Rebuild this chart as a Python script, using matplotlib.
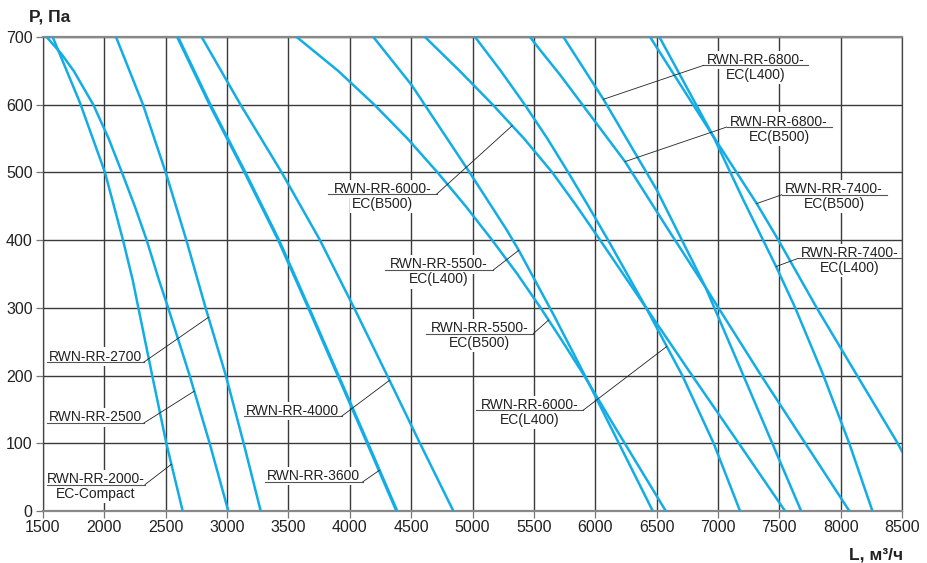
import numpy as np
import matplotlib
matplotlib.use('Agg')
import matplotlib.pyplot as plt
from matplotlib.transforms import offset_copy

plt.rcParams['font.family'] = ['Liberation Sans', 'DejaVu Sans']

# Fan curves: pressure P (Pa) and airflow L (m3/h)
P_2000 = [700, 603, 500, 400, 341, 200, 100, 0]
L_2000 = [1579, 1801, 2005, 2152, 2231, 2390, 2505, 2638]

P_2500 = [700, 675, 650, 600, 550, 500, 450, 400, 341, 300, 200, 100, 0]
L_2500 = [1530, 1650, 1750, 1910, 2035, 2143, 2248, 2345, 2445, 2520, 2695, 2858, 3010]

P_2700 = [700, 600, 500, 400, 300, 200, 100, 0]
L_2700 = [2095, 2315, 2500, 2668, 2825, 2990, 3135, 3274]

P_3600 = [700, 600, 500, 400, 300, 200, 100, 0]
L_3600 = [2597, 2861, 3146, 3420, 3665, 3905, 4145, 4383]

P_4000 = [700, 600, 500, 400, 300, 200, 100, 0]
L_4000 = [2793, 3110, 3445, 3757, 4035, 4305, 4572, 4844]

P_5500B = [700, 650, 600, 550, 500, 450, 400, 350, 300, 250, 200, 130, 0]
L_5500B = [3567, 3905, 4200, 4470, 4715, 4945, 5160, 5365, 5555, 5735, 5910, 6140, 6575]

P_5500L = [700, 629, 499, 415, 386, 290, 195, 130, 0]
L_5500L = [4192, 4504, 4980, 5279, 5374, 5660, 5930, 6110, 6469]

P_6000B = [700, 650, 600, 550, 500, 450, 400, 300, 200, 100, 0]
L_6000B = [4613, 4895, 5165, 5420, 5650, 5850, 6040, 6415, 6790, 7170, 7547]

P_6000L = [700, 650, 600, 550, 500, 450, 400, 300, 200, 100, 0]
L_6000L = [5021, 5230, 5426, 5610, 5780, 5945, 6105, 6415, 6710, 6965, 7180]

P_6800B = [700, 681, 644, 516, 415, 330, 201, 0]
L_6800B = [5469, 5550, 5714, 6243, 6597, 6900, 7349, 8071]

P_6800L = [700, 608, 474, 415, 330, 201, 0]
L_6800L = [5741, 6067, 6502, 6665, 6900, 7205, 7678]

P_7400B = [700, 553, 454, 400, 300, 201, 100, 88]
L_7400B = [6447, 6963, 7316, 7493, 7805, 8131, 8465, 8500]

P_7400L = [700, 553, 459, 361, 300, 200, 100, 0]
L_7400L = [6523, 6963, 7208, 7474, 7630, 7860, 8070, 8259]

curves = {
    '2000': (L_2000, P_2000), '2500': (L_2500, P_2500), '2700': (L_2700, P_2700),
    '3600': (L_3600, P_3600), '4000': (L_4000, P_4000),
    '5500B': (L_5500B, P_5500B), '5500L': (L_5500L, P_5500L),
    '6000B': (L_6000B, P_6000B), '6000L': (L_6000L, P_6000L),
    '6800B': (L_6800B, P_6800B), '6800L': (L_6800L, P_6800L),
    '7400B': (L_7400B, P_7400B), '7400L': (L_7400L, P_7400L),
}

x_ticks = np.arange(1500, 8501, 500)
y_ticks = np.arange(0, 701, 100)

# label layout: text lines, underline x0..x1 at y, curve + pressure the leader points to, leader side
labels = [
    (['RWN-RR-2700'], 1530, 2323, 220, '2700', 286, 'right'),
    (['RWN-RR-2500'], 1530, 2323, 130, '2500', 177, 'right'),
    (['RWN-RR-2000-', 'EC-Compact'], 1530, 2331, 39, '2000', 69, 'right'),
    (['RWN-RR-4000'], 3138, 3934, 140, '4000', 193, 'right'),
    (['RWN-RR-3600'], 3309, 4105, 43, '3600', 60, 'right'),
    (['RWN-RR-6000-', 'EC(B500)'], 3825, 4708, 468, '6000B', 569, 'right'),
    (['RWN-RR-5500-', 'EC(L400)'], 4287, 5170, 356, '5500L', 385, 'right'),
    (['RWN-RR-5500-', 'EC(B500)'], 4621, 5496, 262, '5500B', 282, 'right'),
    (['RWN-RR-6000-', 'EC(L400)'], 5029, 5903, 149, '6000L', 243, 'right'),
    (['RWN-RR-6800-', 'EC(L400)'], 6881, 7737, 658, '6800L', 608, 'left'),
    (['RWN-RR-6800-', 'EC(B500)'], 7071, 7927, 567, '6800B', 516, 'left'),
    (['RWN-RR-7400-', 'EC(B500)'], 7520, 8375, 467, '7400B', 454, 'left'),
    (['RWN-RR-7400-', 'EC(L400)'], 7653, 8498, 373, '7400L', 361, 'left'),
]

CYAN = '#12ade6'

fig = plt.figure(figsize=(9.27, 5.63), dpi=100)
ax = fig.add_axes([43 / 927, 52 / 563, 859 / 927, 474 / 563])

for name, (L, P) in curves.items():
    ax.plot(L, P, color=CYAN, lw=2.4 if name == '3600' else 1.8, zorder=3,
            solid_joinstyle='round')

ax.set_xlim(1500, 8500)
ax.set_ylim(0, 700)
ax.set_xticks(x_ticks)
ax.set_yticks(y_ticks)
ax.grid(True, color='#3a3a3a', lw=1.0)
ax.set_axisbelow(True)
ax.tick_params(direction='out', length=5, width=0.9, color='#777777',
               labelsize=11.5, labelcolor='#222222')
ax.tick_params(axis='x', pad=1.5)
ax.tick_params(axis='y', pad=2.5)
for side in ['left', 'right']:
    ax.spines[side].set_color('#444444')
    ax.spines[side].set_linewidth(0.9)
for side in ['top', 'bottom']:
    ax.spines[side].set_color('#888888')
    ax.spines[side].set_linewidth(1.6)

t_up = offset_copy(ax.transData, fig=fig, x=0, y=1.5, units='dots')
t_dn = offset_copy(ax.transData, fig=fig, x=0, y=-2.5, units='dots')
box = dict(facecolor='white', edgecolor='none', pad=1.5)

for lines, x0, x1, yu, cname, p, side in labels:
    xc = (x0 + x1) / 2
    ax.text(xc, yu, lines[0], transform=t_up, ha='center', va='baseline',
            fontsize=10, color='#222222', zorder=5, bbox=box)
    if len(lines) > 1:
        ax.text(xc, yu, lines[1], transform=t_dn, ha='center', va='top',
                fontsize=10, color='#222222', zorder=5, bbox=box)
    ax.plot([x0, x1], [yu, yu], color='#555555', lw=0.8, zorder=6)
    L, P = curves[cname]
    xt = np.interp(p, P[::-1], L[::-1])
    xs = x1 if side == 'right' else x0
    ax.plot([xs, xt], [yu, p], color='#222222', lw=0.6, zorder=6)

fig.text(29 / 927, 1 - 22 / 563, 'P, Па', fontsize=12.5, fontweight='bold',
         color='#222222', ha='left', va='baseline')
fig.text(903 / 927, 1 - 559 / 563, 'L, м³/ч', fontsize=12.5, fontweight='bold',
         color='#222222', ha='right', va='baseline')

fig.savefig('out.png', dpi=100)
